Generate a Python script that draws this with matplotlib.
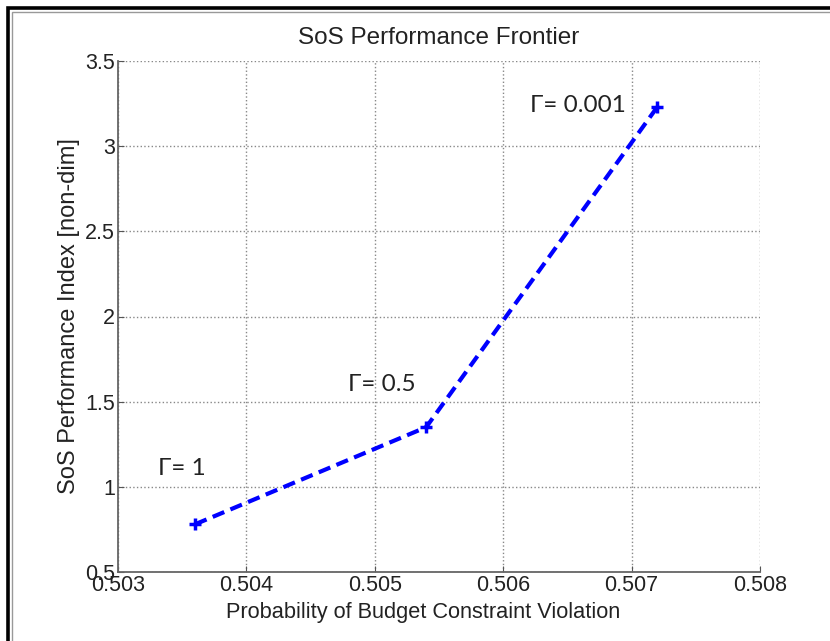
import numpy as np
import matplotlib.pyplot as plt
from matplotlib.patches import Rectangle

# frontier points
prob_violation = [0.5036, 0.5054, 0.5072]
perf_index = [0.78, 1.35, 3.23]
gamma_labels = ['\u0393= 1', '\u0393= 0.5', '\u0393= 0.001']
label_pos = [(0.50331, 1.11), (0.50479, 1.60), (0.50621, 3.24)]

xticks = [0.503, 0.504, 0.505, 0.506, 0.507, 0.508]
yticks = [0.5, 1, 1.5, 2, 2.5, 3, 3.5]

plt.rcParams['font.family'] = ['Liberation Sans', 'DejaVu Sans']

fig = plt.figure(figsize=(8.3, 6.41), dpi=100)
ax = fig.add_axes([118/830, 1 - 572/641, 642/830, 511/641])

ax.plot(prob_violation, perf_index, color='#0000ff', linestyle='--',
        linewidth=3, marker='+', markersize=9, markeredgewidth=2.5,
        dashes=(3, 1.6))

for lab, (lx, ly) in zip(gamma_labels, label_pos):
    ax.text(lx, ly, lab, fontsize=17.5, family=['Lato', 'DejaVu Sans'],
            color='#222222', va='center', ha='left')

ax.set_xlim(0.503, 0.508)
ax.set_ylim(0.5, 3.5)
ax.set_xticks(xticks)
ax.set_xticklabels(['%.3f' % v for v in xticks])
ax.set_yticks(yticks)
ax.set_yticklabels(['%g' % v for v in yticks])
ax.grid(True, linestyle=':', color='#888888', linewidth=1)
ax.tick_params(direction='in', length=4, color='#555555', labelsize=15.5,
               labelcolor='#222222', pad=2)
for side in ['top', 'right']:
    ax.spines[side].set_visible(False)
for side in ['left', 'bottom']:
    ax.spines[side].set_color('#666666')
    ax.spines[side].set_linewidth(1.3)

ax.set_title('SoS Performance Frontier', fontsize=17.5, color='#222222', pad=12)
ax.set_xlabel('Probability of Budget Constraint Violation', fontsize=15.7,
              color='#222222')
ax.xaxis.set_label_coords((423 - 118) / 642, -0.058)
ax.set_ylabel('SoS Performance Index [non-dim]', fontsize=17,
              color='#222222', labelpad=4)

# the frame around the screenshot, running off the right and bottom edges
fig.patches.append(Rectangle((8/830, -0.2), 1.2, 1.2 - 8/641,
                             transform=fig.transFigure, fill=False,
                             edgecolor='black', linewidth=2.6))
fig.patches.append(Rectangle((11.5/830, -0.2), 1.2, 1.2 - 11.5/641,
                             transform=fig.transFigure, fill=False,
                             edgecolor='#999999', linewidth=1.0))

fig.savefig('out.png', dpi=100)
